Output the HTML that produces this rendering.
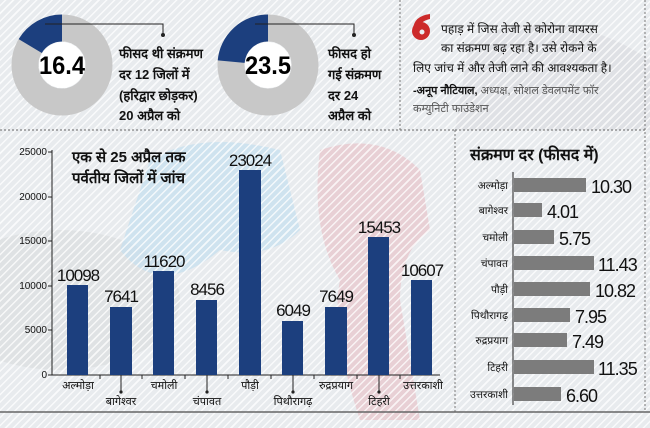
<!DOCTYPE html>
<html><head><meta charset="utf-8"><style>
body{margin:0}
#c{position:relative;width:650px;height:428px;overflow:hidden;background:#e9edf0;font-family:"Liberation Sans","Noto Sans CJK SC",sans-serif}
.str{position:absolute;inset:0;background:repeating-linear-gradient(-45deg,rgba(255,255,255,0) 0 4px,rgba(255,255,255,.75) 4px 5.5px)}
</style></head><body><div id="c">
<svg width="650" height="428" style="position:absolute;left:0;top:0">
<rect x="0" y="0" width="650" height="428" fill="#e8ebee"/>
<ellipse cx="60" cy="300" rx="120" ry="70" fill="#dfe2e4"/>
<path d="M150 160 Q200 130 280 150 L300 230 Q270 260 220 250 Q160 300 120 250 Z" fill="#c4e0ef" opacity=".7"/>
<path d="M320 150 Q380 130 420 170 L430 230 Q400 250 400 300 L420 420 L360 420 Q330 330 340 280 Q310 230 320 150Z" fill="#e8c4ca" opacity=".7"/>
<path d="M470 40 Q560 0 650 60 L650 130 L455 130Z" fill="#dcdfe2" opacity=".8"/>
</svg>
<div class="str"></div>
<svg width="650" height="428" style="position:absolute;left:0;top:0" font-family="Liberation Sans, Noto Sans CJK SC, sans-serif">
<line x1="0" y1="130" x2="455" y2="130" stroke="#666" stroke-dasharray="2,2"/>
<line x1="400" y1="0" x2="400" y2="130" stroke="#777" stroke-dasharray="2,2"/>
<line x1="455" y1="130" x2="645" y2="130" stroke="#666" stroke-dasharray="2,2"/>
<line x1="455" y1="130" x2="455" y2="412" stroke="#777" stroke-dasharray="2,2"/>
<line x1="645" y1="0" x2="645" y2="412" stroke="#777" stroke-dasharray="2,2"/>
<line x1="0" y1="412" x2="650" y2="412" stroke="#666" stroke-width="1.5"/>
<g transform="translate(62,65)">
<circle r="37" fill="none" stroke="#c8c8c8" stroke-width="27"/>
<circle r="37" fill="none" stroke="#1c3f7e" stroke-width="27" stroke-dasharray="38.1 300" transform="rotate(-90) scale(1,-1)"/>
<circle r="23" fill="#fff"/>
<text x="0" y="9" text-anchor="middle" font-size="25" font-weight="bold" textLength="46" lengthAdjust="spacingAndGlyphs">16.4</text>
</g>
<polyline points="45,24 163,24 163,35" fill="none" stroke="#222"/><circle cx="163" cy="35" r="2" fill="#222"/>
<g transform="translate(268,65)">
<circle r="37" fill="none" stroke="#c8c8c8" stroke-width="27"/>
<circle r="37" fill="none" stroke="#1c3f7e" stroke-width="27" stroke-dasharray="54.6 300" transform="rotate(-90) scale(1,-1)"/>
<circle r="23" fill="#fff"/>
<text x="0" y="9" text-anchor="middle" font-size="25" font-weight="bold" textLength="46" lengthAdjust="spacingAndGlyphs">23.5</text>
</g>
<polyline points="255,24 354,24 354,35" fill="none" stroke="#222"/><circle cx="354" cy="35" r="2" fill="#222"/>
<g font-size="13" font-weight="bold" fill="#111">
<text x="119" y="58">फीसद थी संक्रमण</text>
<text x="119" y="79">दर 12 जिलों में</text>
<text x="119" y="100">(हरिद्वार छोड़कर)</text>
<text x="119" y="120">20 अप्रैल को</text>
<text x="328" y="58">फीसद हो</text>
<text x="328" y="79">गई संक्रमण</text>
<text x="328" y="100">दर 24</text>
<text x="328" y="120">अप्रैल को</text>
</g>
<circle cx="421" cy="31" r="9" fill="#cc2a2a"/>
<path d="M413 29 Q414 16 430 14 L430 19 Q420 21 419 29 Z" fill="#cc2a2a"/>
<circle cx="422" cy="32" r="2.5" fill="#e9edf0"/>
<g font-size="12" fill="#111">
<text x="441" y="33">पहाड़ में जिस तेजी से कोरोना वायरस</text>
<text x="441" y="52">का संक्रमण बढ़ रहा है। उसे रोकने के</text>
<text x="413" y="72">लिए जांच में और तेजी लाने की आवश्यकता है।</text>
<text x="413" y="94" font-size="11"><tspan font-weight="bold">-अनूप नौटियाल,</tspan><tspan fill="#555"> अध्यक्ष, सोशल डेवलपमेंट फॉर</tspan></text>
<text x="413" y="112" font-size="11" fill="#555">कम्युनिटी फाउंडेशन</text>
</g>
<g font-size="10" fill="#111" text-anchor="end">
<text x="47" y="155">25000</text><text x="47" y="200">20000</text><text x="47" y="244">15000</text><text x="47" y="289">10000</text><text x="47" y="333">5000</text><text x="47" y="378">0</text>
</g>
<line x1="52" y1="150" x2="52" y2="375" stroke="#222"/>
<line x1="52" y1="375" x2="440" y2="375" stroke="#222"/>
<g stroke="#222"><line x1="48" y1="152" x2="52" y2="152"/><line x1="48" y1="197" x2="52" y2="197"/><line x1="48" y1="241" x2="52" y2="241"/><line x1="48" y1="286" x2="52" y2="286"/><line x1="48" y1="330" x2="52" y2="330"/><line x1="48" y1="375" x2="52" y2="375"/>
<line x1="100" y1="375" x2="100" y2="379"/><line x1="142" y1="375" x2="142" y2="379"/><line x1="185" y1="375" x2="185" y2="379"/><line x1="228" y1="375" x2="228" y2="379"/><line x1="271" y1="375" x2="271" y2="379"/><line x1="314" y1="375" x2="314" y2="379"/><line x1="357" y1="375" x2="357" y2="379"/><line x1="400" y1="375" x2="400" y2="379"/>
<line x1="121" y1="375" x2="121" y2="392"/><line x1="207" y1="375" x2="207" y2="392"/><line x1="293" y1="375" x2="293" y2="392"/><line x1="379" y1="375" x2="379" y2="392"/></g>
<g fill="#222"><circle cx="121" cy="392" r="1.6"/><circle cx="207" cy="392" r="1.6"/><circle cx="293" cy="392" r="1.6"/><circle cx="379" cy="392" r="1.6"/></g>
<g fill="#1c3f7e">
<rect x="67" y="285" width="21" height="90"/><rect x="110" y="307" width="22" height="68"/><rect x="153" y="271" width="21" height="104"/><rect x="196" y="300" width="21" height="75"/><rect x="239" y="170" width="22" height="205"/><rect x="282" y="321" width="21" height="54"/><rect x="325" y="307" width="22" height="68"/><rect x="368" y="237" width="21" height="138"/><rect x="411" y="280" width="21" height="95"/>
</g>
<g font-size="17" fill="#111" text-anchor="middle" letter-spacing="-1">
<text x="78" y="281">10098</text><text x="121" y="302">7641</text><text x="164" y="267">11620</text><text x="207" y="295">8456</text><text x="250" y="166">23024</text><text x="293" y="316">6049</text><text x="336" y="302">7649</text><text x="379" y="233">15453</text><text x="422" y="276">10607</text>
</g>
<g font-size="11" fill="#111" text-anchor="middle">
<text x="78" y="389">अल्मोड़ा</text><text x="164" y="389">चमोली</text><text x="250" y="389">पौड़ी</text><text x="336" y="389">रुद्रप्रयाग</text><text x="423" y="389">उत्तरकाशी</text>
<text x="121" y="405">बागेश्वर</text><text x="207" y="405">चंपावत</text><text x="293" y="405">पिथौरागढ़</text><text x="379" y="405">टिहरी</text>
</g>
<g font-size="15" font-weight="bold" fill="#111"><text x="72" y="162">एक से 25 अप्रैल तक</text><text x="72" y="183">पर्वतीय जिलों में जांच</text></g>
<text x="470" y="160" font-size="16" font-weight="bold" fill="#111">संक्रमण दर (फीसद में)</text>
<line x1="513" y1="172" x2="513" y2="405" stroke="#222"/>
<g fill="#7c7c7c">
<rect x="514" y="178" width="72" height="14"/><rect x="514" y="203" width="28" height="14"/><rect x="514" y="230" width="40" height="14"/><rect x="514" y="256" width="80" height="14"/><rect x="514" y="282" width="76" height="14"/><rect x="514" y="308" width="56" height="14"/><rect x="514" y="333" width="53" height="14"/><rect x="514" y="360" width="80" height="14"/><rect x="514" y="387" width="47" height="14"/>
</g>
<g font-size="10.5" fill="#111" text-anchor="end">
<text x="508" y="189">अल्मोड़ा</text><text x="508" y="214">बागेश्वर</text><text x="508" y="241">चमोली</text><text x="508" y="267">चंपावत</text><text x="508" y="293">पौड़ी</text><text x="508" y="319">पिथौरागढ़</text><text x="508" y="344">रुद्रप्रयाग</text><text x="508" y="371">टिहरी</text><text x="508" y="398">उत्तरकाशी</text>
</g>
<g font-size="18" fill="#111" letter-spacing="-1">
<text x="591" y="193">10.30</text><text x="547" y="218">4.01</text><text x="559" y="245">5.75</text><text x="598" y="271">11.43</text><text x="595" y="297">10.82</text><text x="575" y="323">7.95</text><text x="572" y="348">7.49</text><text x="598" y="375">11.35</text><text x="566" y="402">6.60</text>
</g>
</svg>
</div></body></html>
